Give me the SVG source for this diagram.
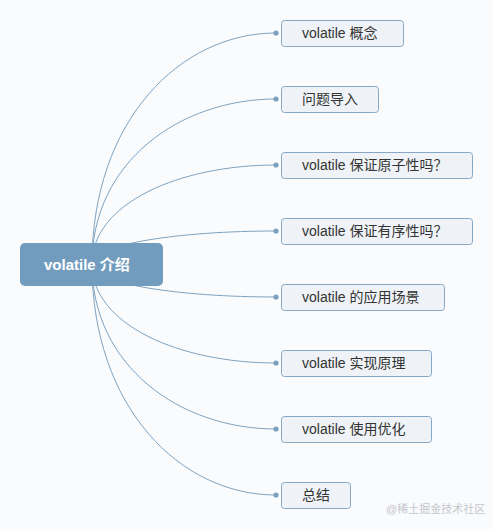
<svg xmlns="http://www.w3.org/2000/svg" width="493" height="529" viewBox="0 0 493 529">
<style>
.bg{fill:#fafbfc}
.link{fill:none;stroke:#7fa3c1;stroke-width:1}
.dot{fill:#7aa0c0}
.box{fill:#eff3f7;stroke:#86a8c6;stroke-width:1}
.lbl{font-family:"Liberation Sans","Noto Sans CJK SC",sans-serif;font-size:14px;fill:#333}
.root{fill:#729cbd}
.rlbl{font-family:"Liberation Sans","Noto Sans CJK SC",sans-serif;font-size:15px;font-weight:bold;fill:#fff}
.wm{font-family:"Liberation Sans","Noto Sans CJK SC",sans-serif;font-size:11px;fill:#c4c7cc}
</style>
<rect class="bg" x="0" y="0" width="493" height="529"/>
<g id="connectors">
<path class="link" d="M92 264 C92 121 180 33 276 33"/>
<path class="link" d="M92 264 C92 162 180 99 276 99"/>
<path class="link" d="M92 264 C92 203 180 165 276 165"/>
<path class="link" d="M92 264 C92 244 180 231 276 231"/>
<path class="link" d="M92 264 C92 284 180 297 276 297"/>
<path class="link" d="M92 264 C92 325 180 363 276 363"/>
<path class="link" d="M92 264 C92 366 180 429 276 429"/>
<path class="link" d="M92 264 C92 407 180 495 276 495"/>
<circle class="dot" cx="276" cy="33" r="2.6"/>
<circle class="dot" cx="276" cy="99" r="2.6"/>
<circle class="dot" cx="276" cy="165" r="2.6"/>
<circle class="dot" cx="276" cy="231" r="2.6"/>
<circle class="dot" cx="276" cy="297" r="2.6"/>
<circle class="dot" cx="276" cy="363" r="2.6"/>
<circle class="dot" cx="276" cy="429" r="2.6"/>
<circle class="dot" cx="276" cy="495" r="2.6"/>
</g>
<g id="root">
<rect class="root" x="20" y="243" width="143" height="43" rx="5"/>
<text class="rlbl" x="44" y="270">volatile 介绍</text>
</g>
<g id="n1">
<rect class="box" x="281.5" y="20.5" width="122" height="26" rx="3"/>
<text class="lbl" x="302" y="38">volatile 概念</text>
</g>
<g id="n2">
<rect class="box" x="281.5" y="86.5" width="97" height="26" rx="3"/>
<text class="lbl" x="302" y="104">问题导入</text>
</g>
<g id="n3">
<rect class="box" x="281.5" y="152.5" width="191" height="26" rx="3"/>
<text class="lbl" x="302" y="170">volatile 保证原子性吗？</text>
</g>
<g id="n4">
<rect class="box" x="281.5" y="218.5" width="191" height="26" rx="3"/>
<text class="lbl" x="302" y="236">volatile 保证有序性吗？</text>
</g>
<g id="n5">
<rect class="box" x="281.5" y="284.5" width="163" height="26" rx="3"/>
<text class="lbl" x="302" y="302">volatile 的应用场景</text>
</g>
<g id="n6">
<rect class="box" x="281.5" y="350.5" width="150" height="26" rx="3"/>
<text class="lbl" x="302" y="368">volatile 实现原理</text>
</g>
<g id="n7">
<rect class="box" x="281.5" y="416.5" width="150" height="26" rx="3"/>
<text class="lbl" x="302" y="434">volatile 使用优化</text>
</g>
<g id="n8">
<rect class="box" x="281.5" y="482.5" width="69" height="26" rx="3"/>
<text class="lbl" x="302" y="500">总结</text>
</g>
<text class="wm" x="386" y="513">@稀土掘金技术社区</text>
</svg>
